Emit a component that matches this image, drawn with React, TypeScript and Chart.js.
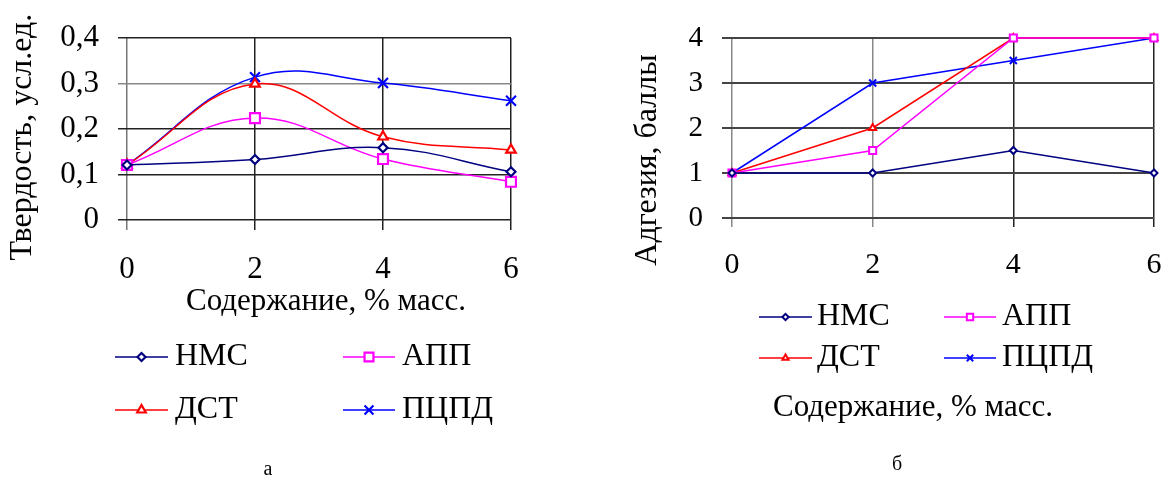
import React, { useEffect, useRef } from 'react';
import { Chart, registerables } from 'chart.js';
import { drawPoint } from 'chart.js/helpers';

Chart.register(...registerables);

// ---------- data ----------
const seriesNames = ['НМС', 'АПП', 'ДСТ', 'ПЦПД'];
const seriesColors = ['#000080', '#FF00FF', '#FF0000', '#0000FF'];
const contentX = [0, 2, 4, 6];
const contentTicks = ['0', '2', '4', '6'];

const hardnessNMS = [0.121, 0.133, 0.159, 0.106];
const hardnessAPP = [0.121, 0.224, 0.134, 0.084];
const hardnessDST = [0.121, 0.299, 0.183, 0.154];
const hardnessPCPD = [0.121, 0.314, 0.301, 0.262];
const hardnessTicks = ['0', '0,1', '0,2', '0,3', '0,4'];

const adhesionNMS = [1, 1, 1.5, 1];
const adhesionAPP = [1, 1.5, 4, 4];
const adhesionDST = [1, 2, 4, 4];
const adhesionPCPD = [1, 3, 3.5, 4];
const adhesionTicks = ['0', '1', '2', '3', '4'];

const FONT = '"Liberation Serif", "Times New Roman", serif';

type Decor = {
  yTitle: string; yTitleX: number; yTitleY: number; yTitleSize: number;
  xTitle: string; xTitleX: number; xTitleY: number; xTitleSize: number;
  legendRows: number[];
  legendCols: { from: number; to: number; text: number }[];
  legendSize: number; legendMarkerScale: number;
  letter: string; letterX: number; letterY: number; letterSize: number;
};

function makeDecor(d: Decor) {
  return {
    id: 'decor',
    afterDraw(chart: any) {
      const ctx = chart.ctx as CanvasRenderingContext2D;
      ctx.save();
      ctx.fillStyle = '#000';
      ctx.textBaseline = 'middle';
      // y title
      ctx.save();
      ctx.font = `${d.yTitleSize}px ${FONT}`;
      ctx.textAlign = 'center';
      ctx.translate(d.yTitleX, d.yTitleY);
      ctx.rotate(-Math.PI / 2);
      ctx.fillText(d.yTitle, 0, 0);
      ctx.restore();
      // x title
      ctx.font = `${d.xTitleSize}px ${FONT}`;
      ctx.textAlign = 'center';
      ctx.fillText(d.xTitle, d.xTitleX, d.xTitleY);
      // letter
      ctx.font = `${d.letterSize}px ${FONT}`;
      ctx.fillText(d.letter, d.letterX, d.letterY);
      // legend
      chart.data.datasets.forEach((ds: any, i: number) => {
        const col = d.legendCols[i % 2];
        const y = d.legendRows[Math.floor(i / 2)];
        ctx.strokeStyle = ds.borderColor;
        ctx.lineWidth = ds.borderWidth;
        ctx.beginPath();
        ctx.moveTo(col.from, y);
        ctx.lineTo(col.to, y);
        ctx.stroke();
        ctx.fillStyle = ds.pointBackgroundColor;
        ctx.strokeStyle = ds.pointBorderColor;
        ctx.lineWidth = ds.pointBorderWidth;
        drawPoint(ctx, {
          pointStyle: ds.pointStyle,
          radius: ds.pointRadius * d.legendMarkerScale,
          rotation: 0,
          borderWidth: ds.pointBorderWidth,
        } as any, (col.from + col.to) / 2, y);
        ctx.fillStyle = '#000';
        ctx.font = `${d.legendSize}px ${FONT}`;
        ctx.textAlign = 'left';
        ctx.fillText(ds.label, col.text, y);
      });
      ctx.restore();
    },
  };
}

function makeDatasets(values: number[][], styles: string[], radii: number[], bw: number, tension: number) {
  return values.map((vals, i) => ({
    label: seriesNames[i],
    data: vals.map((v, j) => ({ x: contentX[j], y: v })),
    borderColor: seriesColors[i],
    borderWidth: 1.5,
    pointStyle: styles[i],
    pointRadius: radii[i],
    pointBorderWidth: bw,
    pointBorderColor: seriesColors[i],
    pointBackgroundColor: '#fff',
    tension,
    clip: false as any,
  }));
}

function fixWidth(w: number) {
  return (scale: any) => {
    scale.width = w;
    scale.paddingTop = 0; scale.paddingBottom = 0; scale.paddingLeft = 0; scale.paddingRight = 0;
  };
}
function fixHeight(h: number) {
  return (scale: any) => {
    scale.height = h;
    scale.paddingTop = 0; scale.paddingBottom = 0; scale.paddingLeft = 0; scale.paddingRight = 0;
  };
}

function ChartCanvas(props: { width: number; left: number; build: () => any }) {
  const ref = useRef<HTMLCanvasElement | null>(null);
  useEffect(() => {
    if (!ref.current) return;
    const chart = new Chart(ref.current, props.build());
    return () => chart.destroy();
  }, []);
  return (
    <canvas
      ref={ref}
      width={props.width}
      height={477}
      style={{ position: 'absolute', left: props.left, top: 0, width: props.width, height: 477 }}
    />
  );
}

function buildHardness() {
  const decor = makeDecor({
    yTitle: 'Твердость, усл.ед.', yTitleX: 23, yTitleY: 137, yTitleSize: 32,
    xTitle: 'Содержание, % масс.', xTitleX: 326, xTitleY: 302, xTitleSize: 31,
    legendRows: [357, 410],
    legendCols: [{ from: 115, to: 168, text: 175 }, { from: 343, to: 395, text: 402 }],
    legendSize: 32, legendMarkerScale: 0.9,
    letter: 'а', letterX: 268, letterY: 470, letterSize: 20,
  });
  return {
    type: 'line',
    data: {
      datasets: makeDatasets(
        [hardnessNMS, hardnessAPP, hardnessDST, hardnessPCPD],
        ['rectRot', 'rect', 'triangle', 'crossRot'],
        [4.5, 7, 5.5, 7], 2.2, 0.4,
      ),
    },
    options: {
      animation: false,
      responsive: false,
      events: [],
      layout: { padding: { top: 38, left: 0, right: 49, bottom: 197 } },
      plugins: { legend: { display: false }, tooltip: { enabled: false } },
      scales: {
        x: {
          type: 'linear', min: 0, max: 6,
          afterFit: fixHeight(60),
          ticks: {
            stepSize: 2, color: '#000', padding: 21,
            font: { family: FONT, size: 31 },
            callback: (_v: any, i: number) => contentTicks[i],
          },
          grid: {
            color: (c: any) => (c.index === 0 ? '#777' : '#222'),
            lineWidth: 1.5, tickLength: 10,
          },
          border: { display: false },
        },
        y: {
          type: 'linear', min: 0, max: 0.4,
          afterFit: fixWidth(127),
          ticks: {
            stepSize: 0.1, color: '#000', padding: 19,
            font: { family: FONT, size: 31 },
            callback: (_v: any, i: number) => hardnessTicks[i],
          },
          grid: {
            color: (c: any) => (c.index === 3 ? '#888' : '#222'),
            lineWidth: 1.5, tickLength: 9,
          },
          border: { display: false },
        },
      },
    },
    plugins: [decor],
  };
}

function buildAdhesion() {
  const decor = makeDecor({
    yTitle: 'Адгезия, баллы', yTitleX: 88, yTitleY: 160, yTitleSize: 32,
    xTitle: 'Содержание, % масс.', xTitleX: 353, xTitleY: 408, xTitleSize: 31,
    legendRows: [317, 358],
    legendCols: [{ from: 199, to: 252, text: 257 }, { from: 384, to: 436, text: 442 }],
    legendSize: 32, legendMarkerScale: 0.9,
    letter: 'б', letterX: 337, letterY: 465, letterSize: 20,
  });
  return {
    type: 'line',
    data: {
      datasets: makeDatasets(
        [adhesionNMS, adhesionAPP, adhesionDST, adhesionPCPD],
        ['rectRot', 'rect', 'triangle', 'crossRot'],
        [3.5, 5, 4, 5], 2, 0,
      ),
    },
    options: {
      animation: false,
      responsive: false,
      events: [],
      layout: { padding: { top: 38, left: 0, right: 9, bottom: 199 } },
      plugins: { legend: { display: false }, tooltip: { enabled: false } },
      scales: {
        x: {
          type: 'linear', min: 0, max: 6,
          afterFit: fixHeight(60),
          ticks: {
            stepSize: 2, color: '#000', padding: 20,
            font: { family: FONT, size: 30 },
            callback: (_v: any, i: number) => contentTicks[i],
          },
          grid: {
            color: (c: any) => (c.index < 2 ? '#888' : '#222'),
            lineWidth: 1.5, tickLength: 9,
          },
          border: { display: false },
        },
        y: {
          type: 'linear', min: 0, max: 4,
          afterFit: fixWidth(172),
          ticks: {
            stepSize: 1, color: '#000', padding: 19,
            font: { family: FONT, size: 29 },
            callback: (_v: any, i: number) => adhesionTicks[i],
          },
          grid: { color: '#444', lineWidth: 2, tickLength: 10 },
          border: { display: false },
        },
      },
    },
    plugins: [decor],
  };
}

export default function App() {
  return (
    <div style={{ position: 'fixed', left: 0, top: 0, width: 1163, height: 477, background: '#fff' }}>
      <ChartCanvas width={560} left={0} build={buildHardness} />
      <ChartCanvas width={603} left={560} build={buildAdhesion} />
    </div>
  );
}
